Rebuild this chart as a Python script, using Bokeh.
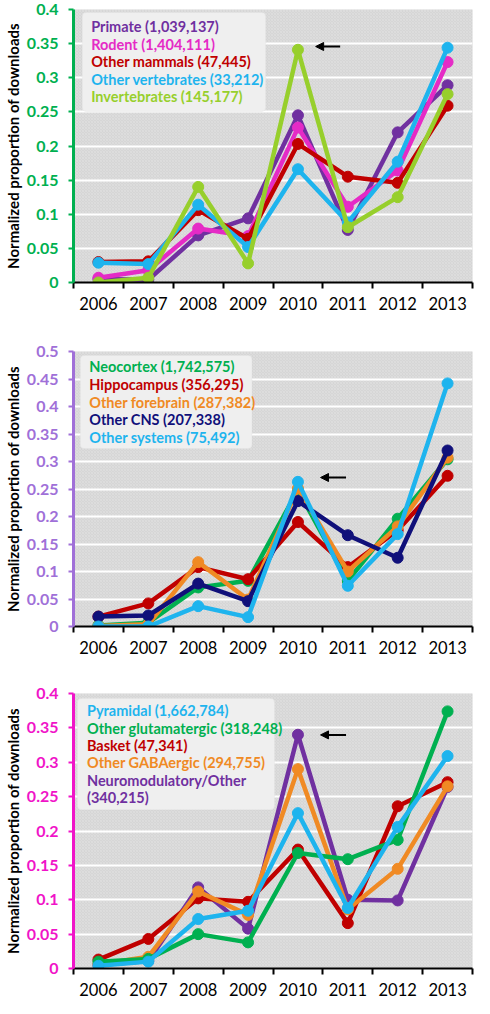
from bokeh.plotting import figure
from bokeh.models import (FixedTicker, CustomJSTickFormatter, Label, BoxAnnotation,
                          Arrow, NormalHead, Range1d)
from bokeh.layouts import column
from bokeh.embed import file_html
from bokeh.resources import INLINE

years = [2006, 2007, 2008, 2009, 2010, 2011, 2012, 2013]
year_labels = ["2006", "2007", "2008", "2009", "2010", "2011", "2012", "2013"]

# Panel 1: species
p1_names = ["Primate", "Rodent", "Other mammals", "Other vertebrates", "Invertebrates"]
p1_counts = ["1,039,137", "1,404,111", "47,445", "33,212", "145,177"]
p1_primate = [0.005, 0.004, 0.069, 0.094, 0.245, 0.077, 0.220, 0.289]
p1_rodent = [0.007, 0.018, 0.079, 0.068, 0.227, 0.111, 0.164, 0.323]
p1_mammals = [0.030, 0.031, 0.106, 0.064, 0.203, 0.155, 0.146, 0.259]
p1_vertebrates = [0.029, 0.027, 0.114, 0.052, 0.166, 0.088, 0.177, 0.344]
p1_invertebrates = [0.000, 0.007, 0.140, 0.028, 0.341, 0.081, 0.125, 0.276]
p1_yticks = [0, 0.05, 0.1, 0.15, 0.2, 0.25, 0.3, 0.35, 0.4]

# Panel 2: brain region
p2_names = ["Neocortex", "Hippocampus", "Other forebrain", "Other CNS", "Other systems"]
p2_counts = ["1,742,575", "356,295", "287,382", "207,338", "75,492"]
p2_neocortex = [0.002, 0.007, 0.071, 0.083, 0.248, 0.083, 0.196, 0.304]
p2_hippocampus = [0.018, 0.042, 0.108, 0.086, 0.190, 0.108, 0.175, 0.274]
p2_forebrain = [0.001, 0.004, 0.117, 0.049, 0.251, 0.100, 0.182, 0.307]
p2_cns = [0.018, 0.020, 0.078, 0.046, 0.228, 0.166, 0.125, 0.320]
p2_systems = [0.000, 0.000, 0.037, 0.017, 0.263, 0.074, 0.168, 0.442]
p2_yticks = [0, 0.05, 0.1, 0.15, 0.2, 0.25, 0.3, 0.35, 0.4, 0.45, 0.5]

# Panel 3: cell type
p3_names = ["Pyramidal", "Other glutamatergic", "Basket", "Other GABAergic", "Neuromodulatory/Other"]
p3_counts = ["1,662,784", "318,248", "47,341", "294,755", "340,215"]
p3_pyramidal = [0.004, 0.010, 0.072, 0.084, 0.226, 0.088, 0.206, 0.309]
p3_glutamatergic = [0.010, 0.014, 0.050, 0.038, 0.168, 0.159, 0.187, 0.374]
p3_basket = [0.013, 0.043, 0.102, 0.097, 0.173, 0.066, 0.236, 0.271]
p3_gabaergic = [0.006, 0.017, 0.112, 0.078, 0.290, 0.086, 0.145, 0.265]
p3_neuromod = [0.005, 0.011, 0.118, 0.058, 0.340, 0.100, 0.099, 0.264]
p3_yticks = [0, 0.05, 0.1, 0.15, 0.2, 0.25, 0.3, 0.35, 0.4]

PURPLE = "#7030A0"
PINK = "#E52BC6"
RED = "#C00000"
CYAN = "#1EB4EE"
LIME = "#97CF2C"
GREEN = "#00B050"
ORANGE = "#F08A24"
NAVY = "#10107A"

FONT = "Lato"
W = 474
BL, BR = 65, 2
FRAME_LEFT_PAGE = 73


def make_panel(series, names, counts, colors, order, yticks, axis_color,
               height, bt, bb, page_top, legend_box, legend_x, legend_ys,
               legend_lines, arrow):
    ymax = yticks[-1]
    p = figure(width=W, height=height, output_backend="svg", toolbar_location=None,
               x_range=Range1d(2005.5, 2013.5), y_range=Range1d(0, ymax),
               min_border_left=BL, min_border_right=BR, min_border_top=bt,
               min_border_bottom=bb)
    p.outline_line_color = None
    p.background_fill_color = "#D6D6D6"
    p.border_fill_color = "white"

    fw = W - BL - BR
    fh = height - bt - bb
    ftop = page_top + bt

    def dx(px):
        return 2005.5 + (px - FRAME_LEFT_PAGE) / fw * 8

    def dy(py):
        return ymax - (py - ftop) / fh * ymax

    # subtle texture
    tex = BoxAnnotation(fill_alpha=0, line_alpha=0, hatch_pattern="x", hatch_scale=3,
                        hatch_color="#E0E0E0", hatch_weight=0.7, level="image")
    p.add_layout(tex)

    p.xgrid.visible = False
    p.ygrid.ticker = FixedTicker(ticks=yticks)
    p.ygrid.grid_line_color = "white"
    p.ygrid.grid_line_width = 2

    # x axis
    xa = p.xaxis[0]
    xa.ticker = FixedTicker(ticks=years, minor_ticks=[y - 0.5 for y in years] + [years[-1] + 0.5])
    xa.major_label_overrides = {y: l for y, l in zip(years, year_labels)}
    xa.major_tick_out = 0
    xa.major_tick_in = 0
    xa.minor_tick_out = 6
    xa.minor_tick_in = 0
    xa.minor_tick_line_color = "black"
    xa.minor_tick_line_width = 2
    xa.axis_line_color = "black"
    xa.axis_line_width = 2
    xa.major_label_text_font = FONT
    xa.major_label_text_font_size = "16.5px"
    xa.major_label_text_color = "black"
    xa.major_label_standoff = 8

    # y axis
    ya = p.yaxis[0]
    ya.ticker = FixedTicker(ticks=yticks)
    ya.formatter = CustomJSTickFormatter(code="return String(Math.round(tick*100)/100)")
    ya.axis_line_color = axis_color
    ya.axis_line_width = 3
    ya.major_tick_line_color = axis_color
    ya.major_tick_line_width = 2
    ya.major_tick_out = 5
    ya.major_tick_in = 0
    ya.minor_tick_line_color = None
    ya.major_label_text_color = axis_color
    ya.major_label_text_font = FONT
    ya.major_label_text_font_style = "bold"
    ya.major_label_text_font_size = "16px"
    ya.major_label_standoff = 10
    ya.axis_label = "Normalized proportion of downloads"
    ya.axis_label_text_font = FONT
    ya.axis_label_text_font_style = "bold"
    ya.axis_label_text_font_size = "15px"
    ya.axis_label_text_color = "black"
    ya.axis_label_standoff = 2

    for i in order:
        p.line(years, series[i], line_color=colors[i], line_width=4.5)
        p.scatter(years, series[i], marker="circle", size=11, fill_color=colors[i],
                  line_color=colors[i])

    # legend box
    lx0, ly0, lx1, ly1 = legend_box
    box = BoxAnnotation(left=dx(lx0), right=dx(lx1), top=dy(ly0), bottom=dy(ly1),
                        fill_color="#EFEFEF", fill_alpha=1, line_color="#E2E2E2",
                        line_width=1, border_radius=4, level="annotation")
    p.add_layout(box)
    for (txt, ci), py in zip(legend_lines, legend_ys):
        p.add_layout(Label(x=dx(legend_x), y=dy(py), text=txt, text_color=colors[ci],
                           text_font=FONT, text_font_style="bold", text_font_size="14.5px",
                           text_baseline="middle", text_align="left"))

    ax0, ax1, ay = arrow
    p.add_layout(Arrow(end=NormalHead(size=8, fill_color="black", line_color="black"),
                       x_start=dx(ax1), x_end=dx(ax0), y_start=dy(ay), y_end=dy(ay),
                       line_color="black", line_width=2))
    return p


p1_series = [p1_primate, p1_rodent, p1_mammals, p1_vertebrates, p1_invertebrates]
p1_lines = [(f"{n} ({c})", i) for i, (n, c) in enumerate(zip(p1_names, p1_counts))]
p1 = make_panel(p1_series, p1_names, p1_counts, [PURPLE, PINK, RED, CYAN, LIME],
                [0, 1, 2, 3, 4], p1_yticks, GREEN, 330, 9, 48, 8,
                (82, 20, 269, 119), 91, [34, 51.5, 69, 86.5, 104], p1_lines,
                (320, 345, 54))

p2_series = [p2_neocortex, p2_hippocampus, p2_forebrain, p2_cns, p2_systems]
p2_lines = [(f"{n} ({c})", i) for i, (n, c) in enumerate(zip(p2_names, p2_counts))]
p2 = make_panel(p2_series, p2_names, p2_counts, [GREEN, RED, ORANGE, NAVY, CYAN],
                [0, 1, 2, 3, 4], p2_yticks, "#A070D8", 330, 21, 34, 338,
                (80, 363, 255, 456), 89, [374.3, 392.3, 410, 427.3, 445], p2_lines,
                (325, 351, 485))

p3_series = [p3_pyramidal, p3_glutamatergic, p3_basket, p3_gabaergic, p3_neuromod]
p3_lines = [(f"{n} ({c})", i) for i, (n, c) in enumerate(zip(p3_names[:4], p3_counts[:4]))]
p3_lines += [(p3_names[4], 4), (f"({p3_counts[4]})", 4)]
p3 = make_panel(p3_series, p3_names, p3_counts, [CYAN, GREEN, RED, ORANGE, PURPLE],
                [4, 2, 3, 1, 0], p3_yticks, "#F014C8", 338, 33, 28, 668,
                (77, 706, 278, 818), 86.7, [718.3, 736, 753.3, 771, 788.7, 806], p3_lines,
                (325, 351, 742.7))

layout = column(p1, p2, p3, spacing=0)
open("out.html", "w").write(file_html(layout, INLINE))
